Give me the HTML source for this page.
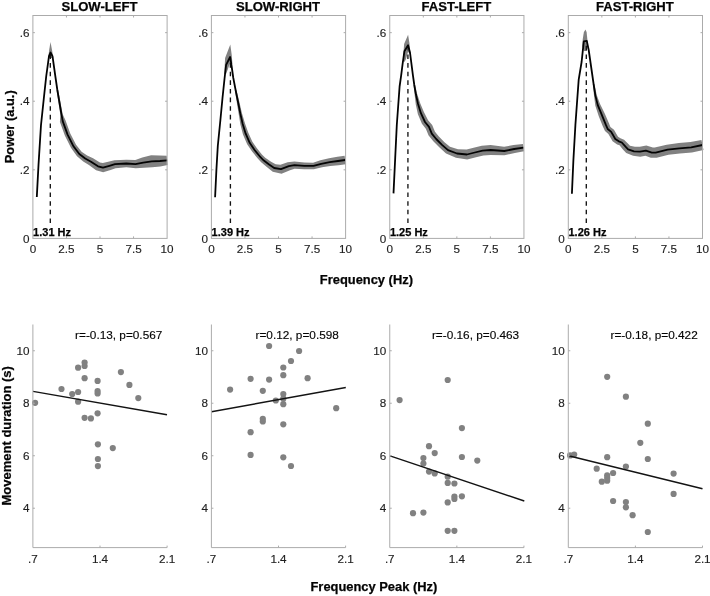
<!DOCTYPE html>
<html lang="en"><head><meta charset="utf-8"><title>Power spectra and frequency peak vs movement duration</title>
<style>html,body{margin:0;padding:0;background:#fff}body{width:710px;height:596px;overflow:hidden;font-family:"Liberation Sans", sans-serif}svg{display:block}text{font-family:"Liberation Sans", sans-serif;fill:#1c1c1c}.tk{font-size:11.7px;stroke:#1c1c1c;stroke-width:.15px}.tt{font-size:13.1px;font-weight:bold;fill:#000;stroke:#000;stroke-width:.25px}.lb{font-size:12.9px;font-weight:bold;fill:#000;stroke:#000;stroke-width:.25px}.hz{font-size:11px;font-weight:bold;fill:#000;stroke:#000;stroke-width:.25px}.rt{font-size:11.8px;fill:#000;stroke:#000;stroke-width:.15px}.ax{stroke:#aaaaaa;stroke-width:1;fill:none}.ln{stroke:#000;stroke-width:1.8;fill:none;stroke-linejoin:round;stroke-linecap:butt}.rg{stroke:#111;stroke-width:1.4;fill:none}.ds{stroke-dasharray:4.6 4.03;fill:none}.bd{fill:#808080;stroke:none}.dt{fill:#808080}</style></head><body>
<svg width="710" height="596" viewBox="0 0 710 596">
<rect width="710" height="596" fill="#fff"/>
<g opacity="0.99">
<g>
<polygon class="bd" points="58.14,89.87 62.68,114.3 65.48,120.26 70.27,133.46 76.07,144.75 81.61,151.79 87.18,155.49 93.08,158.28 99.92,162.45 102.84,163.1 108.17,161.68 114.44,160.24 126.3,159.7 135.31,160.1 142.28,157.58 151.09,155.23 159.65,155.61 166.75,155.72 167.65,164.88 160.35,166.39 152.31,167.37 144.12,167.82 135.69,168.3 126.3,167.3 115.56,168.16 110.63,170.12 103.16,172.3 96.08,170.15 88.92,165.12 83.22,161.51 76.99,156.21 70.93,147.85 64.93,135.74 59.92,121.94 60.32,114.7 56.56,90.13"/>
<polygon class="bd" points="48.2,58 49.1,50.4 50.5,42 52.1,50.4 53.2,58"/>
<line class="ds" stroke="#111" stroke-width="1.35" x1="50.3" y1="223" x2="50.3" y2="54.4"/>
<polyline class="ln" points="36.8,197 38.5,165 41,125 44.5,92 46.25,76 49,56.1 50.5,52.5 52.5,56.1 55.3,76 57.35,90 61.5,114.5 62.7,121.1 67.6,134.6 73.5,146.3 79.3,154 85.2,158.5 91,161.7 98,166.3 103,167.7 109.4,165.9 115,164.2 126.3,163.5 135.5,164.2 143.2,162.7 151.7,161.3 160,161 167.2,160.3"/>
<rect class="ax" x="32.9" y="15.5" width="134.2" height="222.9"/>
<text class="tk" x="32.9" y="252.7" text-anchor="middle">0</text>
<text class="tk" x="66.45" y="252.7" text-anchor="middle">2.5</text>
<text class="tk" x="100" y="252.7" text-anchor="middle">5</text>
<text class="tk" x="133.55" y="252.7" text-anchor="middle">7.5</text>
<text class="tk" x="167.1" y="252.7" text-anchor="middle">10</text>
<text class="tk" x="29.4" y="242.6" text-anchor="end">0</text>
<text class="tk" x="29.4" y="174.02" text-anchor="end">.2</text>
<text class="tk" x="29.4" y="105.43" text-anchor="end">.4</text>
<text class="tk" x="29.4" y="36.85" text-anchor="end">.6</text>
<path class="ax" d="M66.45 238.4v-2 M66.45 15.5v2 M100 238.4v-2 M100 15.5v2 M133.55 238.4v-2 M133.55 15.5v2 M32.9 169.82h2 M167.1 169.82h-2 M32.9 101.23h2 M167.1 101.23h-2 M32.9 32.65h2 M167.1 32.65h-2"/>
<text class="tt" x="99.5" y="10.7" text-anchor="middle">SLOW-LEFT</text>
<text class="hz" x="33.1" y="236.3">1.31 Hz</text>
</g>
<g>
<polygon class="bd" points="236.38,89.84 239.27,101.45 241.96,113.15 245.02,123.38 248.22,132.42 252.26,141.43 256.73,148.07 261.9,154.41 265.24,157.66 271.1,161.75 275.67,164.28 280.45,164.73 287.61,162.17 294.43,161.6 304.43,162.5 313.09,162.63 320.38,160.3 329.06,158.25 337.42,156.74 344.61,155.74 345.79,164.26 338.58,165.26 330.34,165.95 322.02,167.3 313.91,169.17 304.17,169.3 294.57,168.8 289.99,170.23 281.55,173.67 272.73,171.72 267.1,167.25 261.16,162.34 257.5,158.19 252.07,151.53 247.14,144.17 242.98,134.38 240.38,124.62 238.64,113.85 236.73,101.95 234.82,90.16"/>
<polygon class="bd" points="224.3,74 225.1,58.1 230.3,44.4 231.8,55.4 232.4,64 230.3,62 227.8,69.5 226,74"/>
<line class="ds" stroke="#111" stroke-width="1.35" x1="230.4" y1="223" x2="230.4" y2="59"/>
<polyline class="ln" points="215.1,197.2 216.4,170 217.8,146 220.4,120 222.5,98 224.6,78 226.1,64.8 230.1,57 231.6,66 233.3,78 235.6,90 238,101.7 240.3,113.5 242.7,124 245.6,133.4 249.7,142.8 254.4,149.8 259.7,156.3 263.2,160 269.1,164.5 274.2,168 281,169.2 288.8,166.2 294.5,165.2 304.3,165.9 313.5,165.9 321.2,163.8 329.7,162.1 338,161 345.2,160"/>
<rect class="ax" x="211.4" y="15.5" width="134.2" height="222.9"/>
<text class="tk" x="211.4" y="252.7" text-anchor="middle">0</text>
<text class="tk" x="244.95" y="252.7" text-anchor="middle">2.5</text>
<text class="tk" x="278.5" y="252.7" text-anchor="middle">5</text>
<text class="tk" x="312.05" y="252.7" text-anchor="middle">7.5</text>
<text class="tk" x="345.6" y="252.7" text-anchor="middle">10</text>
<text class="tk" x="207.9" y="242.6" text-anchor="end">0</text>
<text class="tk" x="207.9" y="174.02" text-anchor="end">.2</text>
<text class="tk" x="207.9" y="105.43" text-anchor="end">.4</text>
<text class="tk" x="207.9" y="36.85" text-anchor="end">.6</text>
<path class="ax" d="M244.95 238.4v-2 M244.95 15.5v2 M278.5 238.4v-2 M278.5 15.5v2 M312.05 238.4v-2 M312.05 15.5v2 M211.4 169.82h2 M345.6 169.82h-2 M211.4 101.23h2 M345.6 101.23h-2 M211.4 32.65h2 M345.6 32.65h-2"/>
<text class="tt" x="278" y="10.7" text-anchor="middle">SLOW-RIGHT</text>
<text class="hz" x="211.6" y="236.3">1.39 Hz</text>
</g>
<g>
<polygon class="bd" points="415.09,84.88 417.18,94.05 420.22,103.21 423.89,112.05 428.09,120.16 432.19,124.93 434.99,131.72 438.86,136.58 444.47,142.18 449.96,146.73 458,149.21 466.62,149.51 473.59,147.65 481.81,145.66 490.59,145 504.12,146.7 513.5,145.06 522.96,144.04 524.04,151.16 514.9,152.94 504.48,155.3 490.41,155 483.39,155.54 476.01,157.35 467.18,159.49 456,157.79 446.04,153.47 439.53,147.42 433.54,141.42 428.61,135.48 425.81,128.67 421.91,123.84 417.91,114.35 415.78,104.39 414.62,94.55 413.51,85.12"/>
<polygon class="bd" points="403,60 404.1,44.1 408.1,34.7 409.5,43.4 410.3,54 408,52 405.8,59.5 404.5,62"/>
<line class="ds" stroke="#444" stroke-width="1.7" x1="407.9" y1="223" x2="407.9" y2="47.3"/>
<polyline class="ln" points="393.5,193.4 395.2,158 396.8,125 399.6,86.5 401.2,75.2 402.6,64 404.4,51.3 408.1,45.3 410,52.5 412.9,75.2 414.3,85 415.9,94.3 418,103.8 420.9,113.2 425,122 429,126.8 431.8,133.6 436.2,139 442,144.8 448,150.1 457,153.5 466.9,154.5 474.8,152.5 482.6,150.6 490.5,150 504.3,151 514.2,149 523.5,147.6"/>
<rect class="ax" x="389.75" y="15.5" width="134.2" height="222.9"/>
<text class="tk" x="389.75" y="252.7" text-anchor="middle">0</text>
<text class="tk" x="423.3" y="252.7" text-anchor="middle">2.5</text>
<text class="tk" x="456.85" y="252.7" text-anchor="middle">5</text>
<text class="tk" x="490.4" y="252.7" text-anchor="middle">7.5</text>
<text class="tk" x="523.95" y="252.7" text-anchor="middle">10</text>
<text class="tk" x="386.25" y="242.6" text-anchor="end">0</text>
<text class="tk" x="386.25" y="174.02" text-anchor="end">.2</text>
<text class="tk" x="386.25" y="105.43" text-anchor="end">.4</text>
<text class="tk" x="386.25" y="36.85" text-anchor="end">.6</text>
<path class="ax" d="M423.3 238.4v-2 M423.3 15.5v2 M456.85 238.4v-2 M456.85 15.5v2 M490.4 238.4v-2 M490.4 15.5v2 M389.75 169.82h2 M523.95 169.82h-2 M389.75 101.23h2 M523.95 101.23h-2 M389.75 32.65h2 M523.95 32.65h-2"/>
<text class="tt" x="456.35" y="10.7" text-anchor="middle">FAST-LEFT</text>
<text class="hz" x="389.95" y="236.3">1.25 Hz</text>
</g>
<g>
<polygon class="bd" points="594.39,83.88 596.77,95.33 600.07,104.11 604.85,113.65 609.04,123.59 610.41,126.95 613.99,129.78 618.02,136.8 620.46,138.22 624.08,139.72 628.86,144.55 629.97,145.65 634.91,146.79 639.75,146.71 646.33,145.62 652.84,147.61 654.73,147.59 666.67,144.69 678.86,143.03 690.45,142.05 701.48,140 703.52,150 691.95,152.55 679.94,153.57 668.53,154.71 656.67,157.81 650.76,157.79 645.47,155.78 640.25,156.69 633.09,155.81 626.23,152.95 623.14,149.85 619.52,145.28 617.14,144.38 612.58,141.2 608.41,134.02 604.99,131.05 602.76,126.21 598.75,116.15 595.33,105.69 594.03,95.87 592.81,84.12"/>
<polygon class="bd" points="582.2,46 582.8,38.8 583.9,32 585.5,29.4 586.6,32 587.3,38.8 588,46 586.5,51 583.8,51"/>
<line class="ds" stroke="#111" stroke-width="1.35" x1="586.3" y1="223" x2="586.3" y2="43"/>
<polyline class="ln" points="571.9,193.7 573.4,160 575.4,125 577.2,100 578.7,79.6 581.6,62 583.8,41.4 586.8,40.9 588.7,50 593.6,84 595.4,95.6 597.7,104.9 601.8,114.9 605.9,124.9 607.7,129 611.2,131.9 615.3,139 618.8,141.3 621.8,142.5 626,147.2 628.1,149.3 634,151.3 640,151.7 645.9,150.7 651.8,152.7 655.7,152.7 667.6,149.7 679.4,148.3 691.2,147.3 702.5,145"/>
<rect class="ax" x="568.3" y="15.5" width="134.2" height="222.9"/>
<text class="tk" x="568.3" y="252.7" text-anchor="middle">0</text>
<text class="tk" x="601.85" y="252.7" text-anchor="middle">2.5</text>
<text class="tk" x="635.4" y="252.7" text-anchor="middle">5</text>
<text class="tk" x="668.95" y="252.7" text-anchor="middle">7.5</text>
<text class="tk" x="702.5" y="252.7" text-anchor="middle">10</text>
<text class="tk" x="564.8" y="242.6" text-anchor="end">0</text>
<text class="tk" x="564.8" y="174.02" text-anchor="end">.2</text>
<text class="tk" x="564.8" y="105.43" text-anchor="end">.4</text>
<text class="tk" x="564.8" y="36.85" text-anchor="end">.6</text>
<path class="ax" d="M601.85 238.4v-2 M601.85 15.5v2 M635.4 238.4v-2 M635.4 15.5v2 M668.95 238.4v-2 M668.95 15.5v2 M568.3 169.82h2 M702.5 169.82h-2 M568.3 101.23h2 M702.5 101.23h-2 M568.3 32.65h2 M702.5 32.65h-2"/>
<text class="tt" x="634.9" y="10.7" text-anchor="middle">FAST-RIGHT</text>
<text class="hz" x="568.5" y="236.3">1.26 Hz</text>
</g>
<text class="lb" x="366.4" y="283.6" text-anchor="middle">Frequency (Hz)</text>
<text class="lb" transform="translate(13.7 126.8) rotate(-90)" text-anchor="middle">Power (a.u.)</text>
<g>
<circle class="dt" cx="35.1" cy="402.8" r="3.1"/>
<circle class="dt" cx="61.5" cy="389" r="3.1"/>
<circle class="dt" cx="72.2" cy="394" r="3.1"/>
<circle class="dt" cx="78.1" cy="392" r="3.1"/>
<circle class="dt" cx="78.1" cy="401.7" r="3.1"/>
<circle class="dt" cx="78.1" cy="367.7" r="3.1"/>
<circle class="dt" cx="84.6" cy="362.6" r="3.1"/>
<circle class="dt" cx="84.6" cy="366" r="3.1"/>
<circle class="dt" cx="84.6" cy="378.2" r="3.1"/>
<circle class="dt" cx="97.6" cy="380.9" r="3.1"/>
<circle class="dt" cx="97.6" cy="391" r="3.1"/>
<circle class="dt" cx="97.6" cy="393.4" r="3.1"/>
<circle class="dt" cx="97.6" cy="413.3" r="3.1"/>
<circle class="dt" cx="84.6" cy="417.8" r="3.1"/>
<circle class="dt" cx="90.9" cy="418.4" r="3.1"/>
<circle class="dt" cx="120.9" cy="372.1" r="3.1"/>
<circle class="dt" cx="129.4" cy="384.9" r="3.1"/>
<circle class="dt" cx="138.3" cy="398.1" r="3.1"/>
<circle class="dt" cx="97.9" cy="444.3" r="3.1"/>
<circle class="dt" cx="112.8" cy="448.1" r="3.1"/>
<circle class="dt" cx="97.9" cy="459" r="3.1"/>
<circle class="dt" cx="97.9" cy="466.1" r="3.1"/>
<line class="rg" x1="33" y1="391.4" x2="167" y2="414.7"/>
<path class="ax" d="M32.9 324.5V547.6H167.1"/>
<text class="tk" x="32.9" y="562.7" text-anchor="middle">.7</text>
<text class="tk" x="100" y="562.7" text-anchor="middle">1.4</text>
<text class="tk" x="167.1" y="562.7" text-anchor="middle">2.1</text>
<text class="tk" x="29.4" y="512.43" text-anchor="end">4</text>
<text class="tk" x="29.4" y="459.94" text-anchor="end">6</text>
<text class="tk" x="29.4" y="407.44" text-anchor="end">8</text>
<text class="tk" x="29.4" y="354.95" text-anchor="end">10</text>
<path class="ax" d="M100 547.6v-2 M167.1 547.6v-2 M32.9 508.23h2 M32.9 455.74h2 M32.9 403.24h2 M32.9 350.75h2"/>
<text class="rt" x="118.7" y="339.4" text-anchor="middle">r=-0.13, p=0.567</text>
</g>
<g>
<circle class="dt" cx="269.1" cy="346" r="3.1"/>
<circle class="dt" cx="299.1" cy="351" r="3.1"/>
<circle class="dt" cx="291" cy="361" r="3.1"/>
<circle class="dt" cx="283.3" cy="367.5" r="3.1"/>
<circle class="dt" cx="283.3" cy="375.2" r="3.1"/>
<circle class="dt" cx="250.6" cy="378.8" r="3.1"/>
<circle class="dt" cx="269.1" cy="379.6" r="3.1"/>
<circle class="dt" cx="307.6" cy="378.2" r="3.1"/>
<circle class="dt" cx="230.1" cy="389.6" r="3.1"/>
<circle class="dt" cx="262.8" cy="390.8" r="3.1"/>
<circle class="dt" cx="283.3" cy="394" r="3.1"/>
<circle class="dt" cx="275.8" cy="400.5" r="3.1"/>
<circle class="dt" cx="283.3" cy="398.7" r="3.1"/>
<circle class="dt" cx="283.3" cy="404.2" r="3.1"/>
<circle class="dt" cx="336.2" cy="408.2" r="3.1"/>
<circle class="dt" cx="262.8" cy="418.8" r="3.1"/>
<circle class="dt" cx="262.8" cy="421.4" r="3.1"/>
<circle class="dt" cx="283.3" cy="424.3" r="3.1"/>
<circle class="dt" cx="250.6" cy="432.2" r="3.1"/>
<circle class="dt" cx="250.6" cy="454.9" r="3.1"/>
<circle class="dt" cx="283.3" cy="457.3" r="3.1"/>
<circle class="dt" cx="291" cy="466" r="3.1"/>
<line class="rg" x1="211.5" y1="411.7" x2="345.8" y2="387.5"/>
<path class="ax" d="M211.4 324.5V547.6H345.6"/>
<text class="tk" x="211.4" y="562.7" text-anchor="middle">.7</text>
<text class="tk" x="278.5" y="562.7" text-anchor="middle">1.4</text>
<text class="tk" x="345.6" y="562.7" text-anchor="middle">2.1</text>
<text class="tk" x="207.9" y="512.43" text-anchor="end">4</text>
<text class="tk" x="207.9" y="459.94" text-anchor="end">6</text>
<text class="tk" x="207.9" y="407.44" text-anchor="end">8</text>
<text class="tk" x="207.9" y="354.95" text-anchor="end">10</text>
<path class="ax" d="M278.5 547.6v-2 M345.6 547.6v-2 M211.4 508.23h2 M211.4 455.74h2 M211.4 403.24h2 M211.4 350.75h2"/>
<text class="rt" x="297.2" y="339.4" text-anchor="middle">r=0.12, p=0.598</text>
</g>
<g>
<circle class="dt" cx="447.7" cy="380" r="3.1"/>
<circle class="dt" cx="399.6" cy="400.1" r="3.1"/>
<circle class="dt" cx="461.9" cy="428.1" r="3.1"/>
<circle class="dt" cx="429" cy="446.2" r="3.1"/>
<circle class="dt" cx="434.7" cy="453.1" r="3.1"/>
<circle class="dt" cx="423.4" cy="458" r="3.1"/>
<circle class="dt" cx="423.4" cy="463.5" r="3.1"/>
<circle class="dt" cx="429" cy="471.6" r="3.1"/>
<circle class="dt" cx="434.7" cy="473.4" r="3.1"/>
<circle class="dt" cx="461.9" cy="457" r="3.1"/>
<circle class="dt" cx="477.3" cy="460.6" r="3.1"/>
<circle class="dt" cx="447.7" cy="476.7" r="3.1"/>
<circle class="dt" cx="447.7" cy="482.9" r="3.1"/>
<circle class="dt" cx="454.4" cy="483.5" r="3.1"/>
<circle class="dt" cx="454.4" cy="496.5" r="3.1"/>
<circle class="dt" cx="454.4" cy="499" r="3.1"/>
<circle class="dt" cx="461.9" cy="496.3" r="3.1"/>
<circle class="dt" cx="447.7" cy="502.4" r="3.1"/>
<circle class="dt" cx="413" cy="513.2" r="3.1"/>
<circle class="dt" cx="423.4" cy="512.6" r="3.1"/>
<circle class="dt" cx="447.7" cy="530.8" r="3.1"/>
<circle class="dt" cx="454.4" cy="530.8" r="3.1"/>
<line class="rg" x1="390" y1="455.8" x2="524.3" y2="501"/>
<path class="ax" d="M389.75 324.5V547.6H523.95"/>
<text class="tk" x="389.75" y="562.7" text-anchor="middle">.7</text>
<text class="tk" x="456.85" y="562.7" text-anchor="middle">1.4</text>
<text class="tk" x="523.95" y="562.7" text-anchor="middle">2.1</text>
<text class="tk" x="386.25" y="512.43" text-anchor="end">4</text>
<text class="tk" x="386.25" y="459.94" text-anchor="end">6</text>
<text class="tk" x="386.25" y="407.44" text-anchor="end">8</text>
<text class="tk" x="386.25" y="354.95" text-anchor="end">10</text>
<path class="ax" d="M456.85 547.6v-2 M523.95 547.6v-2 M389.75 508.23h2 M389.75 455.74h2 M389.75 403.24h2 M389.75 350.75h2"/>
<text class="rt" x="475.55" y="339.4" text-anchor="middle">r=-0.16, p=0.463</text>
</g>
<g>
<circle class="dt" cx="607.2" cy="376.8" r="3.1"/>
<circle class="dt" cx="625.9" cy="396.7" r="3.1"/>
<circle class="dt" cx="647.8" cy="423.7" r="3.1"/>
<circle class="dt" cx="640.3" cy="442.8" r="3.1"/>
<circle class="dt" cx="570.1" cy="455.4" r="3.1"/>
<circle class="dt" cx="574.2" cy="454.5" r="3.1"/>
<circle class="dt" cx="607.2" cy="457.2" r="3.1"/>
<circle class="dt" cx="647.8" cy="459" r="3.1"/>
<circle class="dt" cx="596.7" cy="468.7" r="3.1"/>
<circle class="dt" cx="625.9" cy="466.5" r="3.1"/>
<circle class="dt" cx="613.1" cy="473" r="3.1"/>
<circle class="dt" cx="607.2" cy="475.4" r="3.1"/>
<circle class="dt" cx="607.2" cy="478.1" r="3.1"/>
<circle class="dt" cx="607.2" cy="480.7" r="3.1"/>
<circle class="dt" cx="601.8" cy="481.7" r="3.1"/>
<circle class="dt" cx="673.6" cy="473.6" r="3.1"/>
<circle class="dt" cx="673.6" cy="493.9" r="3.1"/>
<circle class="dt" cx="613.1" cy="501" r="3.1"/>
<circle class="dt" cx="625.9" cy="502" r="3.1"/>
<circle class="dt" cx="625.9" cy="507.3" r="3.1"/>
<circle class="dt" cx="632.6" cy="515.2" r="3.1"/>
<circle class="dt" cx="647.8" cy="532" r="3.1"/>
<line class="rg" x1="568.5" y1="455.8" x2="702.5" y2="488.8"/>
<path class="ax" d="M568.3 324.5V547.6H702.5"/>
<text class="tk" x="568.3" y="562.7" text-anchor="middle">.7</text>
<text class="tk" x="635.4" y="562.7" text-anchor="middle">1.4</text>
<text class="tk" x="702.5" y="562.7" text-anchor="middle">2.1</text>
<text class="tk" x="564.8" y="512.43" text-anchor="end">4</text>
<text class="tk" x="564.8" y="459.94" text-anchor="end">6</text>
<text class="tk" x="564.8" y="407.44" text-anchor="end">8</text>
<text class="tk" x="564.8" y="354.95" text-anchor="end">10</text>
<path class="ax" d="M635.4 547.6v-2 M702.5 547.6v-2 M568.3 508.23h2 M568.3 455.74h2 M568.3 403.24h2 M568.3 350.75h2"/>
<text class="rt" x="654.1" y="339.4" text-anchor="middle">r=-0.18, p=0.422</text>
</g>
<text class="lb" x="373.9" y="591.2" text-anchor="middle">Frequency Peak (Hz)</text>
<text class="lb" style="font-size:13px" transform="translate(10.5 435.8) rotate(-90)" text-anchor="middle">Movement duration (s)</text>
</g></svg></body></html>
